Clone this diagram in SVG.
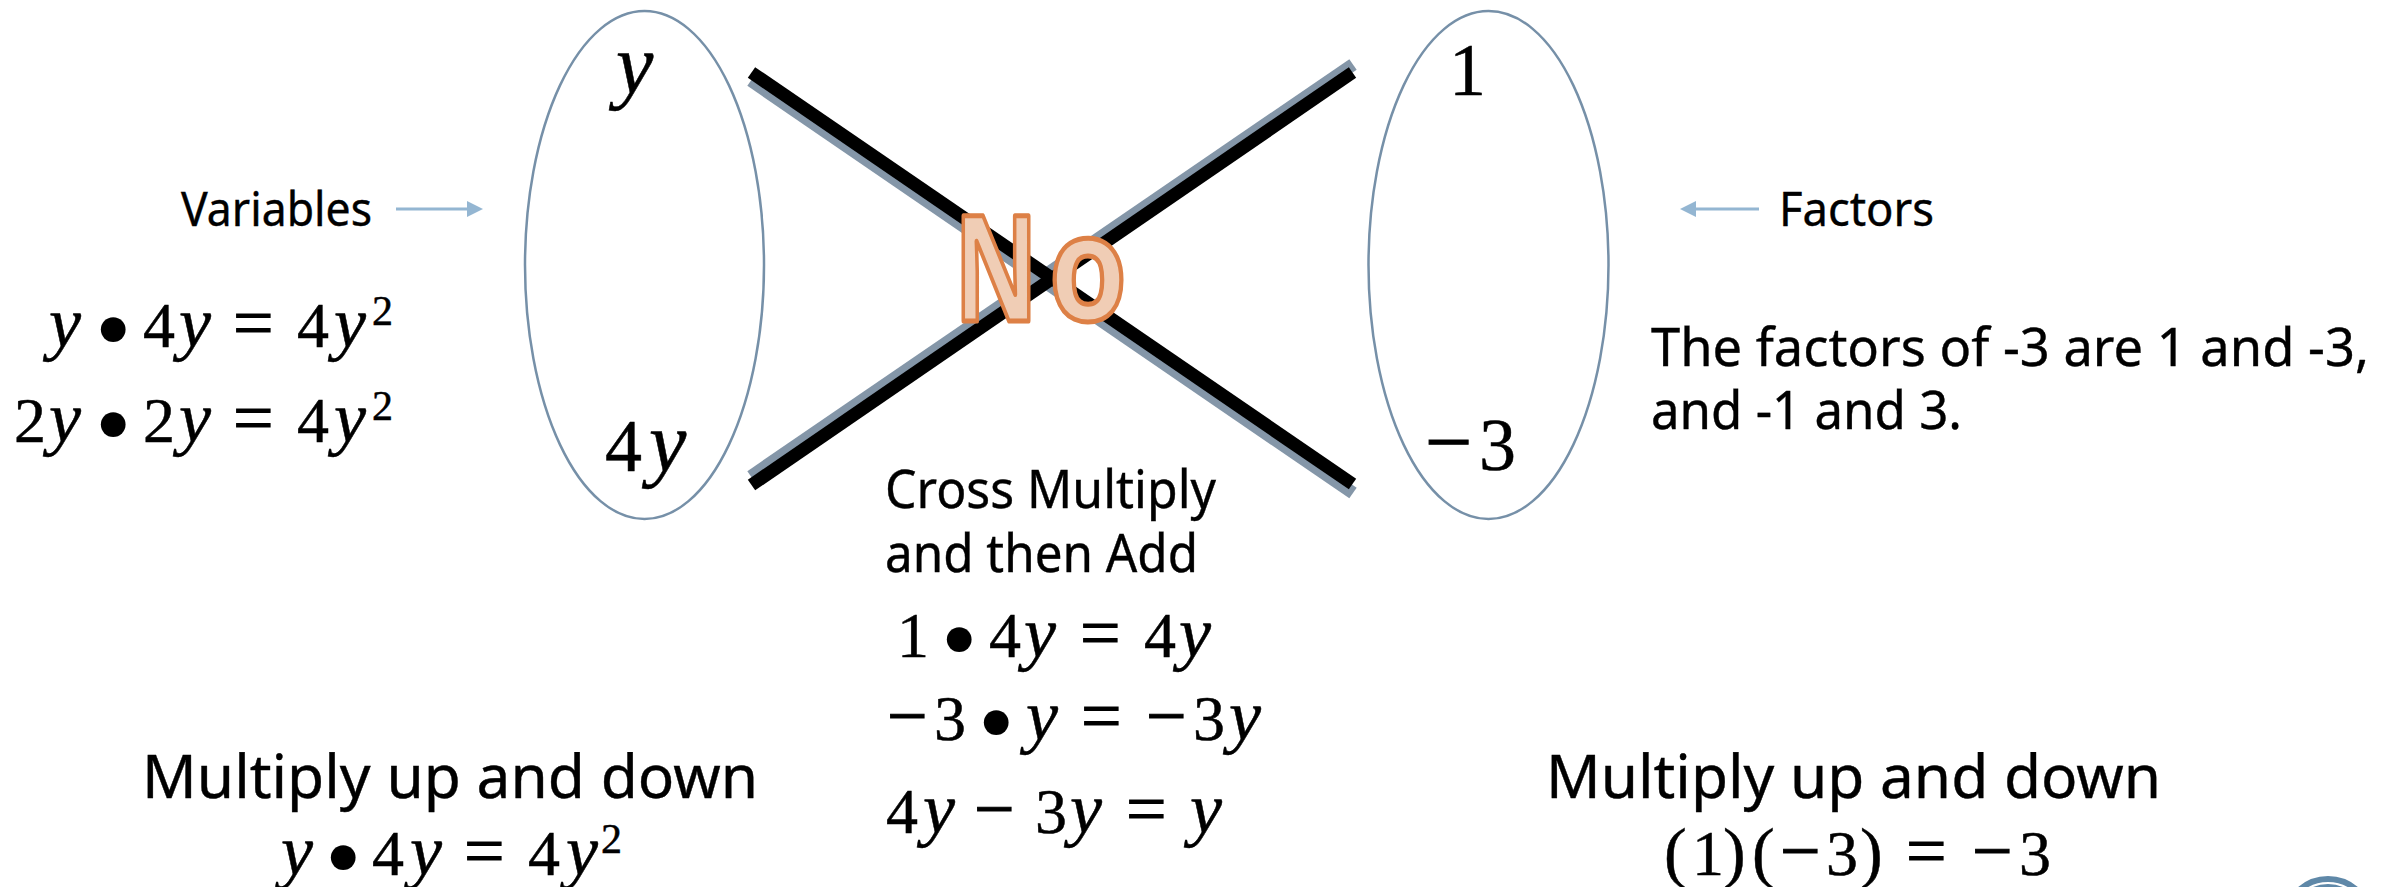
<svg xmlns="http://www.w3.org/2000/svg" width="2392" height="887" viewBox="0 0 2392 887">
<defs>
<style>
.bg{fill:#fff}
.oval{fill:none;stroke:#7690a8;stroke-width:2.5}
.x{stroke:#000;stroke-width:13;fill:none}
.xs{stroke:#8496a8;stroke-width:13;fill:none}
.arr{stroke:#94b6d2;stroke-width:3;fill:none}
.head{fill:#94b6d2}
text{fill:#000}
.t{font-family:"Noto Sans","Open Sans",sans-serif;font-variant-ligatures:none;stroke:#000;stroke-width:.4}
.m{font-family:"Liberation Serif",serif;font-size:64px;stroke:#000;stroke-width:.5}
.m2{font-size:74px}
.i{font-style:italic;font-size:72px}
.m2 .i{font-size:84px}
.o{font-size:72px;stroke-width:1}
.m2 .o{font-size:84px}
.b{font-size:104px;stroke-width:0}
.p{font-size:68px}
.s{font-size:42px}
.no{font-family:"Open Sans","Noto Sans",sans-serif;font-weight:700;font-size:147px;fill:#f0cdb5;stroke:#dd8046;stroke-width:5;stroke-linejoin:round}
.logo{fill:none;stroke:#5f88a8;stroke-width:6}
</style>
</defs>
<rect class="bg" width="2392" height="887"/>
<g id="connectors">
<line class="xs" x1="751" y1="80.500" x2="1353" y2="493"/>
<line class="xs" x1="751" y1="476.500" x2="1353" y2="64.500"/>
<line class="x" x1="751.500" y1="72.500" x2="1352.500" y2="484"/>
<line class="x" x1="751.500" y1="485" x2="1352.500" y2="72.500"/>
<line class="arr" x1="396" y1="209" x2="470" y2="209"/>
<path class="head" d="M467 201L483 209L467 217Z"/>
<line class="arr" x1="1759" y1="209" x2="1692" y2="209"/>
<path class="head" d="M1696 201L1680 209L1696 217Z"/>
</g>
<g id="oval-left"><ellipse class="oval" cx="644.500" cy="265" rx="119.500" ry="254"/>
<text class="m m2"><tspan class="i" x="616" y="93">y</tspan></text>
<text class="m m2"><tspan x="605" y="471">4</tspan><tspan class="i" x="649" y="471">y</tspan></text></g>
<g id="oval-right"><ellipse class="oval" cx="1488.500" cy="265" rx="120" ry="254"/>
<text class="m m2" x="1449" y="95">1</text>
<text class="m m2"><tspan class="o" x="1425" y="470">−</tspan><tspan x="1479" y="470">3</tspan></text></g>
<g id="label-variables"><text class="t" x="181" y="226" font-size="47" textLength="191" lengthAdjust="spacingAndGlyphs">Variables</text></g>
<g id="label-factors"><text class="t" x="1779" y="226" font-size="47" textLength="155" lengthAdjust="spacingAndGlyphs">Factors</text></g>
<g id="left-products">
<text class="m"><tspan class="i" x="49" y="347">y</tspan><tspan class="b" x="95" y="364">•</tspan><tspan x="143" y="347">4</tspan><tspan class="i" x="179" y="347">y</tspan><tspan class="o" x="233" y="347">=</tspan><tspan x="297" y="347">4</tspan><tspan class="i" x="334" y="347">y</tspan><tspan class="s" x="372" y="325">2</tspan></text>
<text class="m"><tspan x="14" y="442">2</tspan><tspan class="i" x="49" y="442">y</tspan><tspan class="b" x="95" y="459">•</tspan><tspan x="143" y="442">2</tspan><tspan class="i" x="179" y="442">y</tspan><tspan class="o" x="233" y="442">=</tspan><tspan x="297" y="442">4</tspan><tspan class="i" x="334" y="442">y</tspan><tspan class="s" x="372" y="420">2</tspan></text>
</g>
<g id="factors-note">
<text class="t" x="1651" y="366" font-size="53" textLength="718" lengthAdjust="spacingAndGlyphs">The factors of -3 are 1 and -3,</text>
<text class="t" x="1651" y="429" font-size="53" textLength="311" lengthAdjust="spacingAndGlyphs">and -1 and 3.</text>
</g>
<g id="cross-multiply">
<text class="t" x="885" y="508" font-size="53" textLength="331" lengthAdjust="spacingAndGlyphs">Cross Multiply</text>
<text class="t" x="885" y="572" font-size="53" textLength="313" lengthAdjust="spacingAndGlyphs">and then Add</text>
<text class="m"><tspan x="897" y="657">1</tspan><tspan class="b" x="941" y="674">•</tspan><tspan x="989" y="657">4</tspan><tspan class="i" x="1024" y="657">y</tspan><tspan class="o" x="1080" y="657">=</tspan><tspan x="1144" y="657">4</tspan><tspan class="i" x="1179" y="657">y</tspan></text>
<text class="m"><tspan class="o" x="887" y="740">−</tspan><tspan x="934" y="740">3</tspan><tspan class="b" x="978" y="757">•</tspan><tspan class="i" x="1026" y="740">y</tspan><tspan class="o" x="1081" y="740">=</tspan><tspan class="o" x="1146" y="740">−</tspan><tspan x="1193" y="740">3</tspan><tspan class="i" x="1229" y="740">y</tspan></text>
<text class="m"><tspan x="886" y="833">4</tspan><tspan class="i" x="923" y="833">y</tspan><tspan class="o" x="974" y="833">−</tspan><tspan x="1035" y="833">3</tspan><tspan class="i" x="1070" y="833">y</tspan><tspan class="o" x="1126" y="833">=</tspan><tspan class="i" x="1190" y="833">y</tspan></text>
</g>
<g id="no">
<text class="no" x="954" y="321" textLength="84" lengthAdjust="spacingAndGlyphs">N</text>
<text class="no" x="1049" y="321" textLength="78" lengthAdjust="spacingAndGlyphs">o</text>
</g>
<g id="multiply-left">
<text class="t" x="142" y="798" font-size="61" textLength="616" lengthAdjust="spacingAndGlyphs">Multiply up and down</text>
<text class="m"><tspan class="i" x="281" y="875">y</tspan><tspan class="b" x="325" y="892">•</tspan><tspan x="372" y="875">4</tspan><tspan class="i" x="410" y="875">y</tspan><tspan class="o" x="464" y="875">=</tspan><tspan x="528" y="875">4</tspan><tspan class="i" x="566" y="875">y</tspan><tspan class="s" x="601" y="853">2</tspan></text>
</g>
<g id="multiply-right">
<text class="t" x="1546" y="798" font-size="61" textLength="615" lengthAdjust="spacingAndGlyphs">Multiply up and down</text>
<text class="m"><tspan class="p" x="1664" y="875">(</tspan><tspan x="1692" y="875">1</tspan><tspan class="p" x="1723" y="875">)</tspan><tspan class="p" x="1752" y="875">(</tspan><tspan class="o" x="1780" y="875">−</tspan><tspan x="1826" y="875">3</tspan><tspan class="p" x="1860" y="875">)</tspan><tspan class="o" x="1906" y="875">=</tspan><tspan class="o" x="1972" y="875">−</tspan><tspan x="2019" y="875">3</tspan></text>
</g>
<g id="logo">
<circle class="logo" cx="2328" cy="922" r="43"/>
<circle class="logo" cx="2328" cy="921" r="34"/>
</g>
</svg>
